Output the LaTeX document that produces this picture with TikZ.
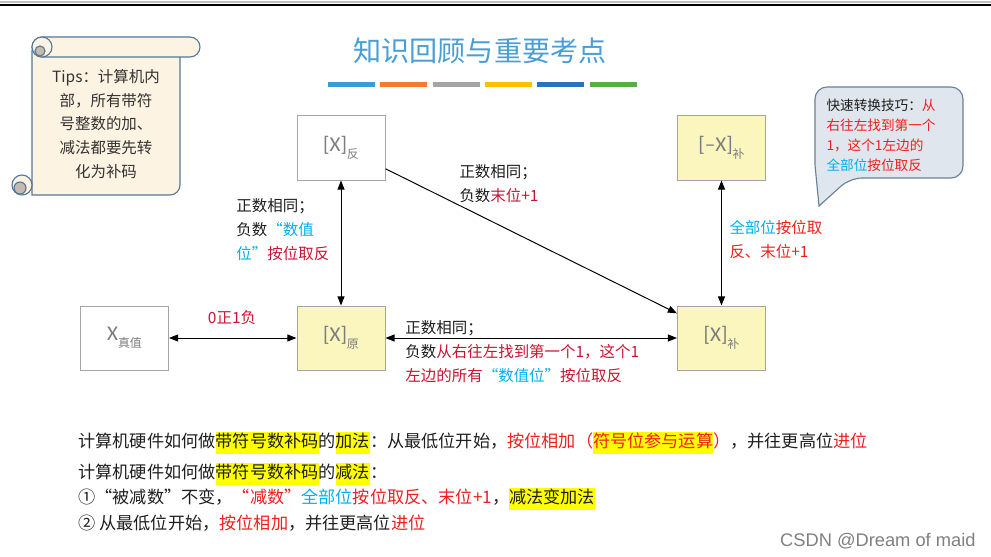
\documentclass[tikz,border=0pt]{standalone}
\usepackage{fontspec}
\setmainfont{Noto Sans CJK SC}
\newfontfamily\boxfont{Carlito}
\newfontfamily\wmfont{Liberation Sans}
\usetikzlibrary{arrows.meta,positioning,calc}

\definecolor{txt}{RGB}{30,30,30}
\definecolor{crim}{RGB}{200,20,50}
\definecolor{hred}{RGB}{240,30,30}
\definecolor{cyn}{RGB}{0,176,236}
\definecolor{ttl}{RGB}{72,158,214}
\definecolor{hly}{RGB}{255,255,0}
\definecolor{boxy}{RGB}{250,246,190}
\definecolor{boxln}{RGB}{165,165,165}
\definecolor{lblgray}{RGB}{125,125,125}
\definecolor{scbg}{RGB}{253,243,226}
\definecolor{scln}{RGB}{84,120,150}
\definecolor{sccurl}{RGB}{196,186,174}
\definecolor{cobg}{RGB}{224,230,237}
\definecolor{coln}{RGB}{105,128,150}
\definecolor{bar1}{RGB}{58,155,216}
\definecolor{bar2}{RGB}{244,122,50}
\definecolor{bar3}{RGB}{165,165,165}
\definecolor{bar4}{RGB}{255,192,0}
\definecolor{bar5}{RGB}{46,111,192}
\definecolor{bar6}{RGB}{90,172,68}

\newcommand{\hlt}[1]{{\setlength{\fboxsep}{0pt}\colorbox{hly}{\strut#1}}}
\newcommand{\reg}[2]{{\boxfont\fontsize{15}{18}\selectfont #1}\raisebox{-5pt}{\fontsize{8.5}{10}\selectfont #2}}

\begin{document}
\begin{tikzpicture}[
  x=0.025cm, y=-0.025cm,
  code/.style={draw=boxln, minimum width=2.2cm, minimum height=1.6cm,
               text=lblgray, inner sep=0pt},
  codey/.style={code, fill=boxy},
  lbl/.style={font=\fontsize{11}{17}\selectfont, align=left, text=txt, inner sep=0pt},
  line/.style={font=\fontsize{12.2}{16}\selectfont, text=txt, inner sep=0pt, anchor=west},
  scroll/.style={draw=scln, fill=scbg, line width=0.8pt},
  >={Triangle[length=6.5pt,width=5pt]}, line width=0.7pt
]
  \useasboundingbox (0,0) rectangle (991,557);

  % top rule
  \draw[black!25, line width=0.8pt] (0,2) -- (991,2);
  \draw[black, line width=1.8pt] (0,5) -- (991,5);

  % title and colour bars
  \node[text=ttl, font=\fontsize{20}{24}\selectfont] (title) at (480,51) {知识回顾与重要考点};
  \foreach \c [count=\i] in {bar1,bar2,bar3,bar4,bar5,bar6}
    \fill[\c] ({328+52.3*(\i-1)},82) rectangle ++(47,5);

  % tips scroll
  \draw[scroll] (32,50) -- (32,195) [rounded corners=0.25cm] -- (180,195) -- (180,57);
  \draw[scroll, rounded corners=0.25cm] (32,37) rectangle (200,57);
  \draw[scroll] (42,47) circle[radius=10];
  \filldraw[draw=scln, fill=sccurl, line width=0.8pt] (40,51) circle[radius=5];
  \draw[scroll] (22,185) circle[radius=10];
  \filldraw[draw=scln, fill=sccurl, line width=0.8pt] (20,188) circle[radius=6];
  \node[lbl, align=center, text=black!80] (tips) at (106,124)
    {Tips：计算机内\\部，所有带符\\号整数的加、\\减法都要先转\\化为补码};

  % callout
  \draw[draw=coln, fill=cobg, line width=0.8pt]
    (815,130) [rounded corners=0.3cm] -- (815,87) -- (963,87) -- (963,178)
    -- (850,178) [sharp corners] -- (819,206) -- (815,165) -- cycle;
  \node[lbl, font=\fontsize{9.7}{14.2}\selectfont, anchor=west] (hint) at (826,135)
    {快速转换技巧：\textcolor{hred}{从}\\\textcolor{hred}{右往左找到第一个}\\
     \textcolor{hred}{1，这个1左边的}\\\textcolor{cyn}{全部位}\textcolor{hred}{按位取反}};

  % codes
  \node[code]  (zhen) at (124.5,338) {\reg{X}{真值}};
  \node[codey] (yuan) at (341,338)   {\reg{[X]}{原}};
  \node[code]  (fan)  at (341,148)   {\reg{[X]}{反}};
  \node[codey] (bu)   at (721.5,338) {\reg{[X]}{补}};
  \node[codey] (fbu)  at (721.5,148) {\reg{[–X]}{补}};

  \draw[<->] (zhen) -- (yuan);
  \draw[<->] (yuan) -- (bu);
  \draw[<->] (fan) -- (yuan);
  \draw[<->] (fbu) -- (bu);
  \draw[->] (fan.-25) -- (bu.151);

  \node[lbl, text=crim] (l0) at (232,318) {0正1负};
  \node[lbl, anchor=west] (l1) at (236,230)
    {正数相同；\\负数\textcolor{cyn}{“数值}\\\textcolor{cyn}{位”}\textcolor{crim}{按位取反}};
  \node[lbl, anchor=west] (l2) at (459,184) {正数相同；\\负数\textcolor{crim}{末位+1}};
  \node[lbl, anchor=west] (l3) at (729,240)
    {\textcolor{cyn}{全部位}\textcolor{hred}{按位取}\\\textcolor{hred}{反、末位+1}};
  \node[lbl, anchor=west] (l4) at (405,352)
    {正数相同；\\负数\textcolor{crim}{从右往左找到第一个1，这个1}\\
     \textcolor{crim}{左边的所有}\textcolor{cyn}{“数值位”}\textcolor{crim}{按位取反}};

  % hardware notes
  \node[line] (n1) at (78,443) {计算机硬件如何做\hlt{带符号数补码}的\hlt{加法}：从最低位开始，\textcolor{hred}{按位相加（}\hlt{\textcolor{hred}{符号位参与运算}}\textcolor{hred}{）}，并往更高位\textcolor{hred}{进位}};
  \node[line] (n2) at (78,474) {计算机硬件如何做\hlt{带符号数补码}的\hlt{减法}：};
  \node[line] (n3) at (78,499) {①“被减数”不变，\textcolor{hred}{“减数”}\textcolor{cyn}{全部位}\textcolor{hred}{按位取反、末位+1}，\hlt{减法变加法}};
  \node[line] (n4) at (78,523) {② 从最低位开始，\textcolor{hred}{按位相加}，并往更高位\textcolor{hred}{进位}};

  \node[anchor=east, inner sep=0pt, text=black!50, font=\wmfont\fontsize{13}{15}\selectfont]
    (wm) at (976,541) {CSDN @Dream of maid};
\end{tikzpicture}
\end{document}
